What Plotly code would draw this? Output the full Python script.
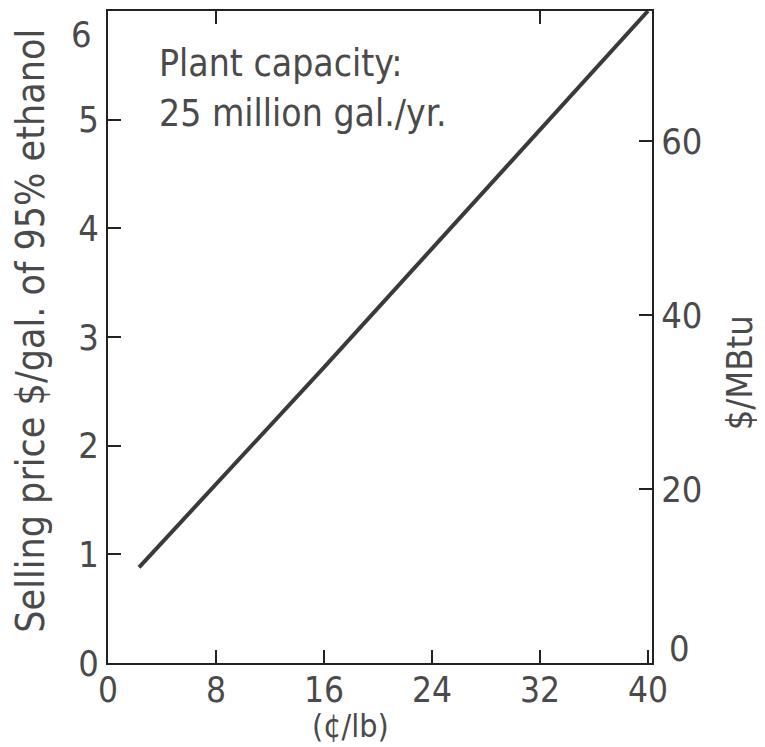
import plotly.graph_objects as go

# Data
feed_cost = [2.3, 16, 40]          # cents/lb
selling_price = [0.88, 2.72, 6.0]  # $/gal of 95% ethanol

x_ticks = [0, 8, 16, 24, 32, 40]
y_ticks = [0, 1, 2, 3, 4, 5]
y2_ticks = [0, 20, 40, 60]
y2_labels = ["", "20", "40", "60"]

FONT = "Liberation Sans Narrow, DejaVu Sans Condensed, Liberation Sans, sans-serif"
TXT = "#4a4a4a"
AX = "#222222"
FS = 36

fig = go.Figure()
fig.add_trace(go.Scatter(x=feed_cost, y=selling_price, mode="lines",
                         line=dict(color="#3a3a3a", width=4),
                         showlegend=False, hoverinfo="skip"))
fig.add_trace(go.Scatter(x=[0], y=[0], yaxis="y2", mode="markers",
                         marker=dict(opacity=0), showlegend=False, hoverinfo="skip"))
fig.add_trace(go.Scatter(x=[0], y=[0], xaxis="x2", mode="markers",
                         marker=dict(opacity=0), showlegend=False, hoverinfo="skip"))

common = dict(ticks="inside", ticklen=13, tickwidth=1.5, tickcolor=AX,
              showline=True, linecolor=AX, linewidth=2, showgrid=False,
              zeroline=False, automargin=False)

# the page body adds an 8px offset, so the figure is sized to the remaining area
fig.update_layout(
    width=757, height=739,
    margin=dict(l=100, r=113, t=3, b=84),
    paper_bgcolor="white", plot_bgcolor="white",
    font=dict(family=FONT, size=FS, color=TXT),
    xaxis=dict(range=[0, 40.3], tickvals=x_ticks, ticklabelstandoff=-5,
               tickfont=dict(size=35, color=TXT), **common),
    xaxis2=dict(range=[0, 40.3], overlaying="x", side="top", tickvals=[8, 32],
                showticklabels=False, **common),
    yaxis=dict(range=[0, 6], tickvals=y_ticks,
               tickfont=dict(size=FS, color=TXT), **common),
    yaxis2=dict(range=[0, 75], overlaying="y", side="right", tickvals=y2_ticks,
                ticktext=y2_labels, tickfont=dict(size=FS, color=TXT), **common),
)

# axis titles and corner tick labels placed as annotations
fig.add_annotation(text="(¢/lb)", x=0.445, y=-0.1295, xref="paper", yref="paper",
                   showarrow=False, xanchor="center", yanchor="bottom",
                   font=dict(size=32, color=TXT))
fig.add_annotation(text="Selling price $/gal. of 95% ethanol", x=-0.143, y=0.51,
                   xref="paper", yref="paper", textangle=-90, showarrow=False,
                   xanchor="center", yanchor="middle",
                   font=dict(size=39, color=TXT))
fig.add_annotation(text="$/MBtu", x=1.202, y=0.445, xref="paper", yref="paper",
                   textangle=-90, showarrow=False, xanchor="right",
                   yanchor="middle", font=dict(size=FS, color=TXT))
fig.add_annotation(text="6", x=0, y=6, xref="x", yref="y", xanchor="right",
                   yanchor="top", xshift=-14, yshift=-1, showarrow=False,
                   font=dict(size=FS, color=TXT))
fig.add_annotation(text="0", x=1, y=0, xref="paper", yref="y", xanchor="left",
                   yanchor="bottom", xshift=15, yshift=-8, showarrow=False,
                   font=dict(size=FS, color=TXT))

fig.add_annotation(text="Plant capacity:", x=3.6, y=5.52, xref="x", yref="y",
                   showarrow=False, xanchor="left", yanchor="middle",
                   font=dict(size=37, color=TXT))
fig.add_annotation(text="25 million gal./yr.", x=3.6, y=5.06, xref="x", yref="y",
                   showarrow=False, xanchor="left", yanchor="middle",
                   font=dict(size=37, color=TXT))

fig.write_html("out.html")
